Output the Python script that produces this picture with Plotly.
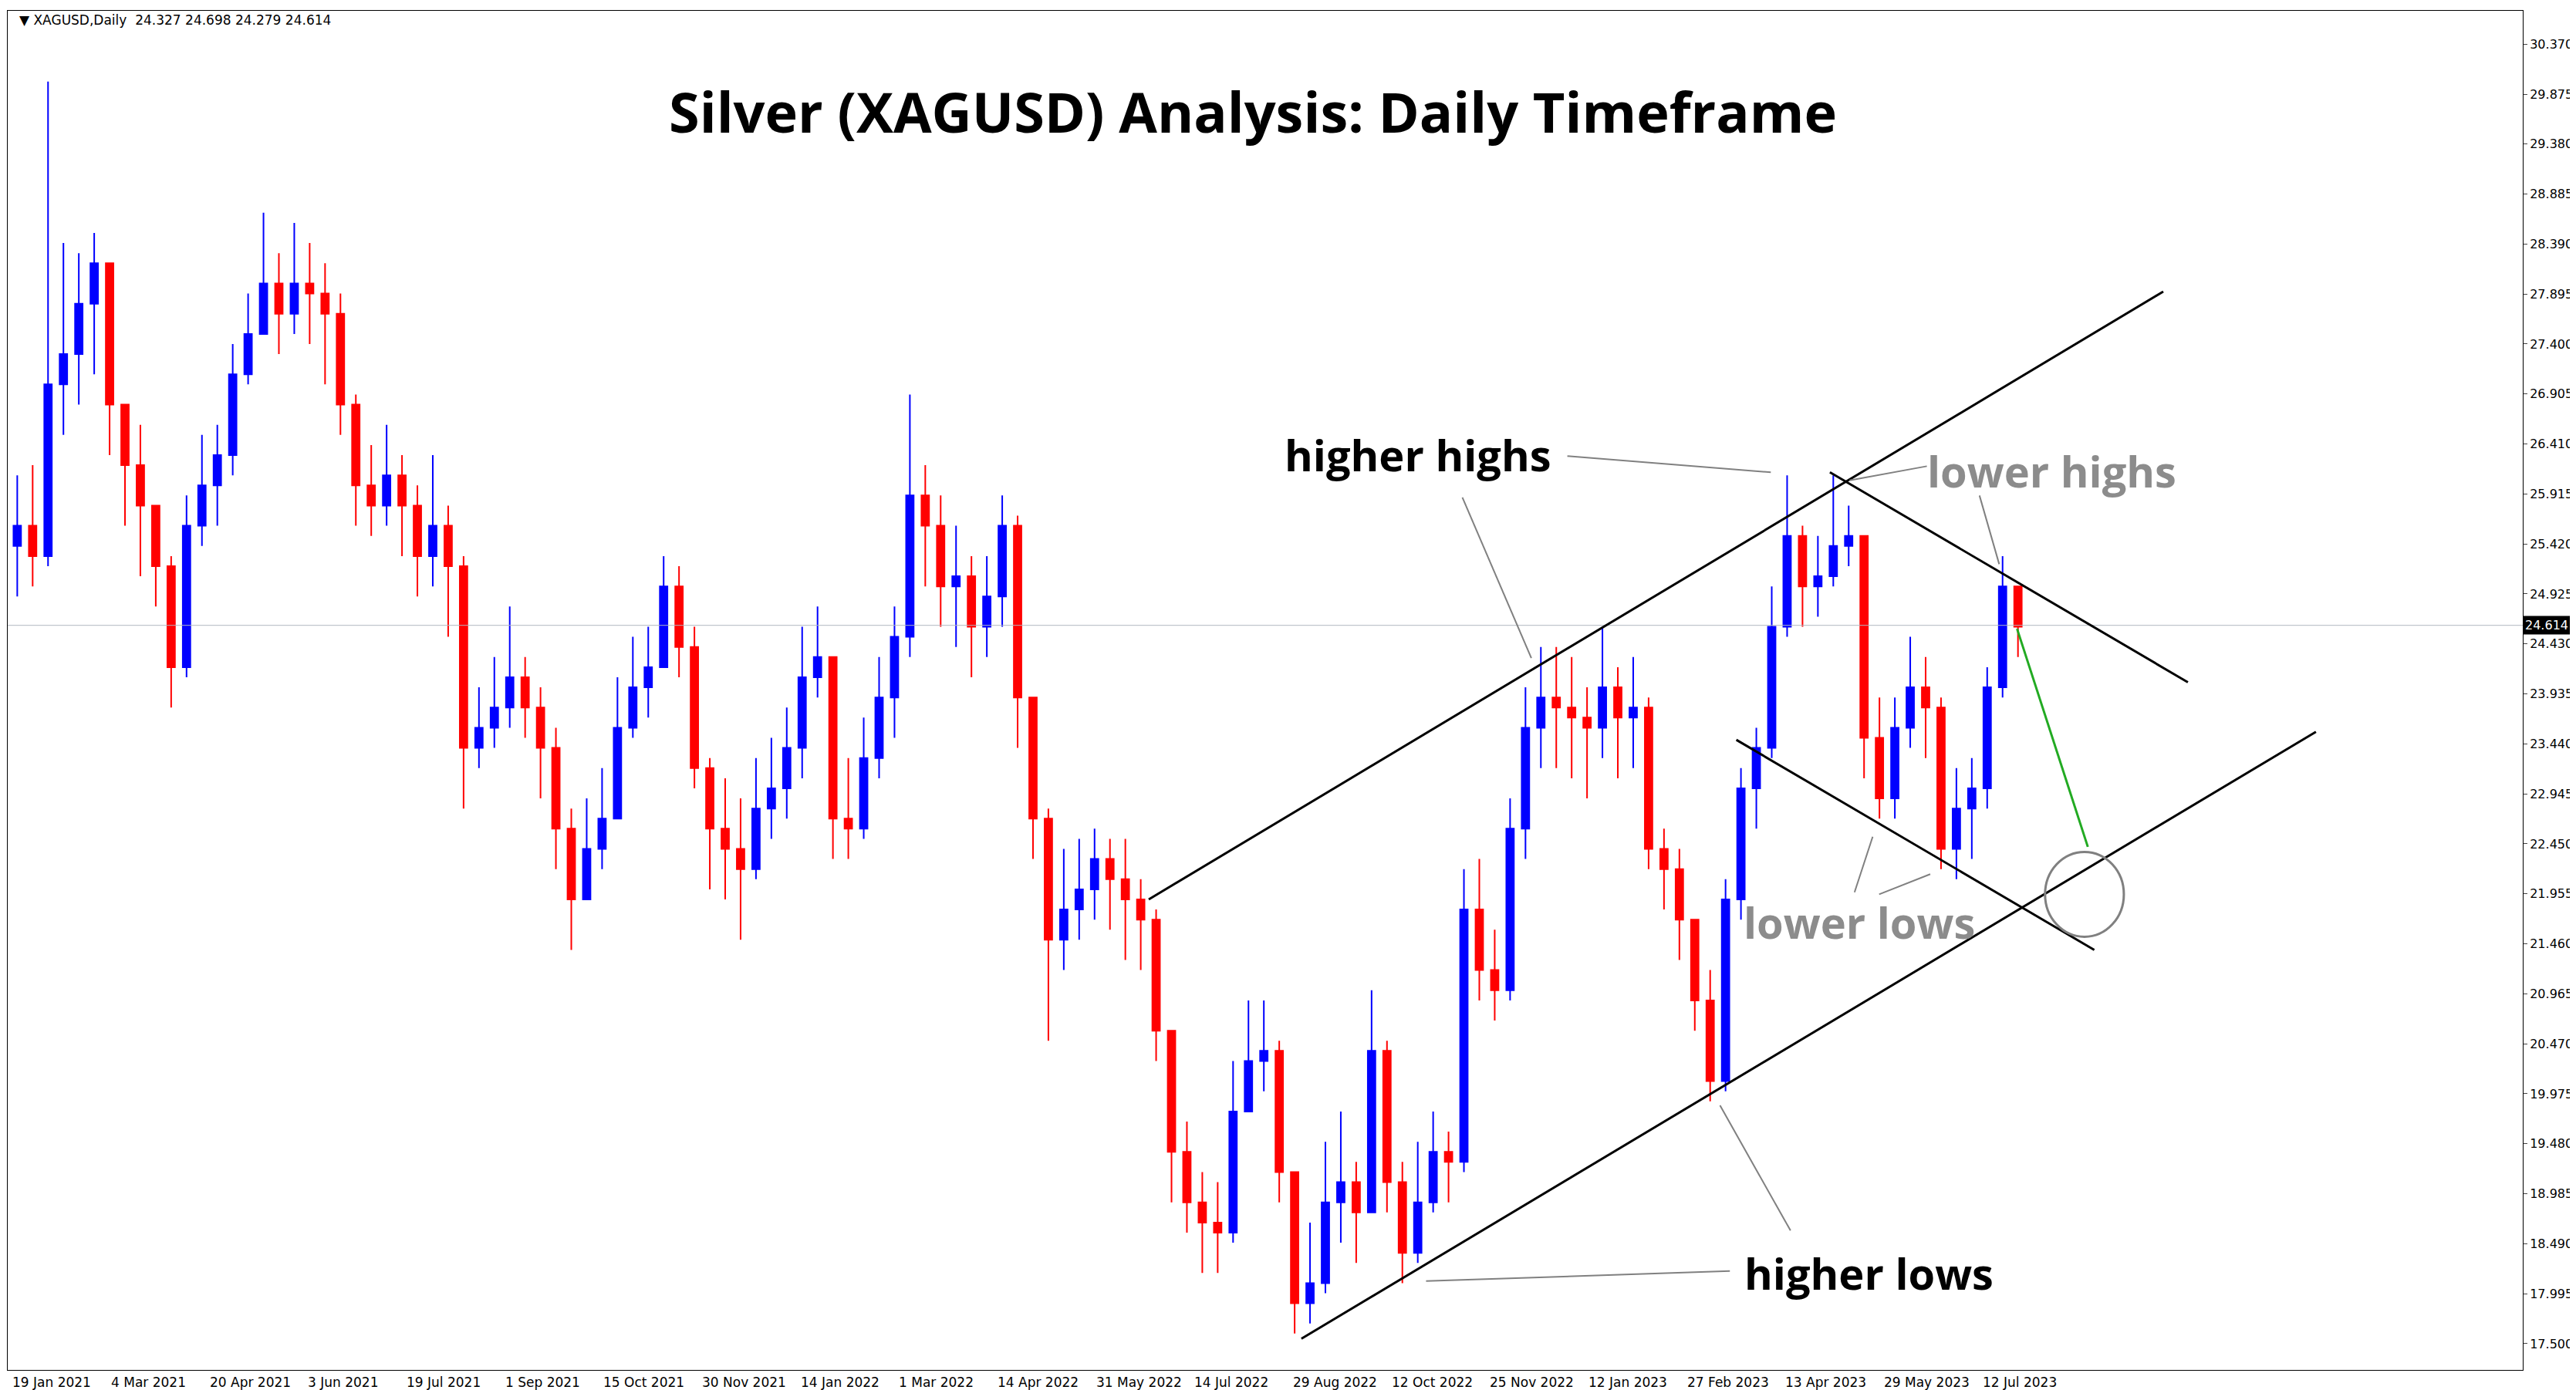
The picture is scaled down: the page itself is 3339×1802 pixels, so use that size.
import plotly.graph_objects as go

# weekly candles (x unit = trading days from 19 Jan 2021)
closes = [25.6, 25.3, 27.0, 27.3, 27.8, 28.2, 26.8, 26.2, 25.8, 25.2,
          24.2, 25.6, 26.0, 26.3, 27.1, 27.5, 28.0, 27.7, 28.0, 27.9,
          27.7, 26.8, 26.0, 25.8, 26.1, 25.8, 25.3, 25.6, 25.2, 23.4,
          23.6, 23.8, 24.1, 23.8, 23.4, 22.6, 21.9, 22.4, 22.7, 23.6,
          24.0, 24.2, 25.0, 24.4, 23.2, 22.6, 22.4, 22.2, 22.8, 23.0,
          23.4, 24.1, 24.3, 22.7, 22.6, 23.3, 23.9, 24.5, 25.9, 25.6,
          25.0, 25.1, 24.6, 24.9, 25.6, 23.9, 22.7, 21.5, 21.8, 22.0,
          22.3, 22.1, 21.9, 21.7, 20.6, 19.4, 18.9, 18.7, 18.6, 19.8,
          20.3, 20.4, 19.2, 17.9, 18.1, 18.9, 19.1, 18.8, 20.4, 19.1,
          18.4, 18.9, 19.4, 19.3, 21.8, 21.2, 21.0, 22.6, 23.6, 23.9,
          23.8, 23.7, 23.6, 24.0, 23.7, 23.8, 22.4, 22.2, 21.7, 20.9,
          20.1, 21.9, 23.0, 23.4, 24.6, 25.5, 25.0, 25.1, 25.4, 25.5,
          23.5, 22.9, 23.6, 24.0, 23.8, 22.4, 22.8, 23.0, 24.0, 25.0,
          24.6]
highs = [26.1, 26.2, 30.0, 28.4, 28.3, 28.5, 28.2, 26.8, 26.6, 25.8,
         25.3, 25.9, 26.5, 26.6, 27.4, 27.9, 28.7, 28.3, 28.6, 28.4,
         28.2, 27.9, 26.9, 26.4, 26.6, 26.3, 26.0, 26.3, 25.8, 25.3,
         24.0, 24.3, 24.8, 24.3, 24.0, 23.6, 22.8, 22.9, 23.2, 24.1,
         24.5, 24.6, 25.3, 25.2, 24.6, 23.3, 23.1, 22.9, 23.3, 23.5,
         23.8, 24.6, 24.8, 24.3, 23.3, 23.7, 24.3, 24.8, 26.9, 26.2,
         25.9, 25.6, 25.3, 25.3, 25.9, 25.7, 23.9, 22.8, 22.4, 22.5,
         22.6, 22.5, 22.5, 22.1, 21.8, 20.6, 19.7, 19.2, 19.1, 20.3,
         20.9, 20.9, 20.5, 19.2, 18.7, 19.5, 19.8, 19.3, 21.0, 20.5,
         19.3, 19.5, 19.8, 19.6, 22.2, 22.3, 21.6, 22.9, 24.0, 24.4,
         24.4, 24.3, 24.0, 24.6, 24.2, 24.3, 23.9, 22.6, 22.4, 21.7,
         21.2, 22.1, 23.2, 23.6, 25.0, 26.1, 25.6, 25.5, 26.1, 25.8,
         25.5, 23.9, 23.9, 24.5, 24.3, 23.9, 23.2, 23.3, 24.2, 25.3,
         24.8]
lows = [24.9, 25.0, 25.2, 26.5, 26.8, 27.1, 26.3, 25.6, 25.1, 24.8,
        23.8, 24.1, 25.4, 25.6, 26.1, 27.0, 27.6, 27.3, 27.5, 27.4,
        27.0, 26.5, 25.6, 25.5, 25.6, 25.3, 24.9, 25.0, 24.5, 22.8,
        23.2, 23.4, 23.6, 23.5, 22.9, 22.2, 21.4, 21.9, 22.2, 22.7,
        23.5, 23.7, 24.3, 24.1, 23.0, 22.0, 21.9, 21.5, 22.1, 22.5,
        22.7, 23.1, 23.9, 22.3, 22.3, 22.5, 23.1, 23.5, 24.3, 25.0,
        24.6, 24.4, 24.1, 24.3, 24.6, 23.4, 22.3, 20.5, 21.2, 21.5,
        21.7, 21.6, 21.3, 21.2, 20.3, 18.9, 18.6, 18.2, 18.2, 18.5,
        19.9, 20.0, 18.9, 17.6, 17.7, 18.0, 18.5, 18.3, 18.9, 18.8,
        18.1, 18.3, 18.8, 18.9, 19.2, 20.9, 20.7, 20.9, 22.3, 23.2,
        23.2, 23.1, 22.9, 23.3, 23.1, 23.2, 22.2, 21.8, 21.3, 20.6,
        19.9, 20.0, 21.7, 22.6, 23.3, 24.5, 24.6, 24.7, 25.0, 25.2,
        23.1, 22.7, 22.7, 23.4, 23.3, 22.2, 22.1, 22.3, 22.8, 23.9,
        24.3]
first_open = 25.4
last_price = 24.614

tick_labels = ["19 Jan 2021", "4 Mar 2021", "20 Apr 2021", "3 Jun 2021", "19 Jul 2021",
               "1 Sep 2021", "15 Oct 2021", "30 Nov 2021", "14 Jan 2022", "1 Mar 2022",
               "14 Apr 2022", "31 May 2022", "14 Jul 2022", "29 Aug 2022", "12 Oct 2022",
               "25 Nov 2022", "12 Jan 2023", "27 Feb 2023", "13 Apr 2023", "29 May 2023",
               "12 Jul 2023"]
price_ticks = [17.5 + 0.495 * i for i in range(27)]

x = [5 * i + 2 for i in range(len(closes))]
opens = [first_open] + closes[:-1]

fig = go.Figure(go.Candlestick(
    x=x, open=opens, high=highs, low=lows, close=closes,
    increasing=dict(line=dict(color="#0000ff", width=2), fillcolor="#0000ff"),
    decreasing=dict(line=dict(color="#ff0000", width=2), fillcolor="#ff0000"),
    whiskerwidth=0, showlegend=False))

# current price line
fig.add_hline(y=last_price, line=dict(color="#b0b8c0", width=1))

# trend lines (day, price)
black_lines = [
    ((369.6, 21.90), (699.2, 27.92)),
    ((419.2, 17.55), (748.8, 23.56)),
    ((590.9, 26.13), (707.2, 24.05)),
    ((560.5, 23.48), (676.8, 21.40)),
]
gray_lines = [
    ((505.6, 26.29), (571.7, 26.13)),
    ((471.5, 25.88), (493.9, 24.29)),
    ((622.4, 26.19), (597.3, 26.05)),
    ((639.5, 25.90), (645.9, 25.22)),
    ((604.8, 22.52), (598.9, 21.97)),
    ((623.5, 22.15), (606.9, 21.95)),
    ((555.2, 19.86), (578.1, 18.62)),
    ((459.7, 18.12), (558.4, 18.22)),
]
for (a, b) in black_lines:
    fig.add_shape(type="line", x0=a[0], y0=a[1], x1=b[0], y1=b[1],
                  line=dict(color="black", width=3))
for (a, b) in gray_lines:
    fig.add_shape(type="line", x0=a[0], y0=a[1], x1=b[0], y1=b[1],
                  line=dict(color="#808080", width=2))
fig.add_shape(type="line", x0=651.7, y0=24.58, x1=674.7, y1=22.42,
              line=dict(color="#22aa22", width=3))
fig.add_shape(type="circle", x0=660.8, y0=21.53, x1=686.4, y1=22.37,
              line=dict(color="#808080", width=3))

labels = [
    ("higher highs", 457, 26.31, "black"),
    ("lower highs", 663, 26.15, "#8c8c8c"),
    ("lower lows", 600.5, 21.68, "#8c8c8c"),
    ("higher lows", 603.7, 18.20, "black"),
]
for txt, lx, ly, col in labels:
    fig.add_annotation(x=lx, y=ly, text=txt, showarrow=False,
                       font=dict(family="Open Sans", size=56, color=col, weight="bold"))

# date labels start at their bar, as in the terminal
for i, lab in enumerate(tick_labels):
    fig.add_annotation(x=32 * i, y=0, yref="paper", xanchor="left", yanchor="top", yshift=-4,
                       text=lab, showarrow=False,
                       font=dict(family="DejaVu Sans", size=17, color="black"))

fig.add_annotation(xref="paper", yref="paper", x=0.495, y=0.955, text="Silver (XAGUSD) Analysis: Daily Timeframe",
                   showarrow=False, font=dict(family="Open Sans", size=72, color="black", weight="bold"))
fig.add_annotation(xref="paper", yref="paper", x=0.004, y=1.0, xanchor="left", yanchor="top",
                   text="▼ XAGUSD,Daily  24.327 24.698 24.279 24.614", showarrow=False,
                   font=dict(family="DejaVu Sans", size=17, color="black"))
fig.add_annotation(xref="paper", y=last_price, x=1.0, xanchor="left", text="24.614", showarrow=False,
                   bgcolor="black", font=dict(family="DejaVu Sans", size=16, color="white"), borderpad=2)

fig.update_layout(
    width=3339, height=1802,
    margin=dict(l=2, r=77, t=6, b=34),
    paper_bgcolor="white", plot_bgcolor="white",
    xaxis=dict(range=[-1.1, 816], showticklabels=False,
               showgrid=False, zeroline=False, rangeslider=dict(visible=False),
               showline=True, linecolor="black", mirror=True, ticks=""),
    yaxis=dict(range=[17.24, 30.70], side="right", tickvals=price_ticks,
               ticktext=["%.3f" % v for v in price_ticks], showgrid=False, zeroline=False,
               showline=True, linecolor="black", mirror=True, ticks="outside", ticklen=5,
               tickfont=dict(family="DejaVu Sans", size=16, color="black")),
)

fig.write_html("out.html")
